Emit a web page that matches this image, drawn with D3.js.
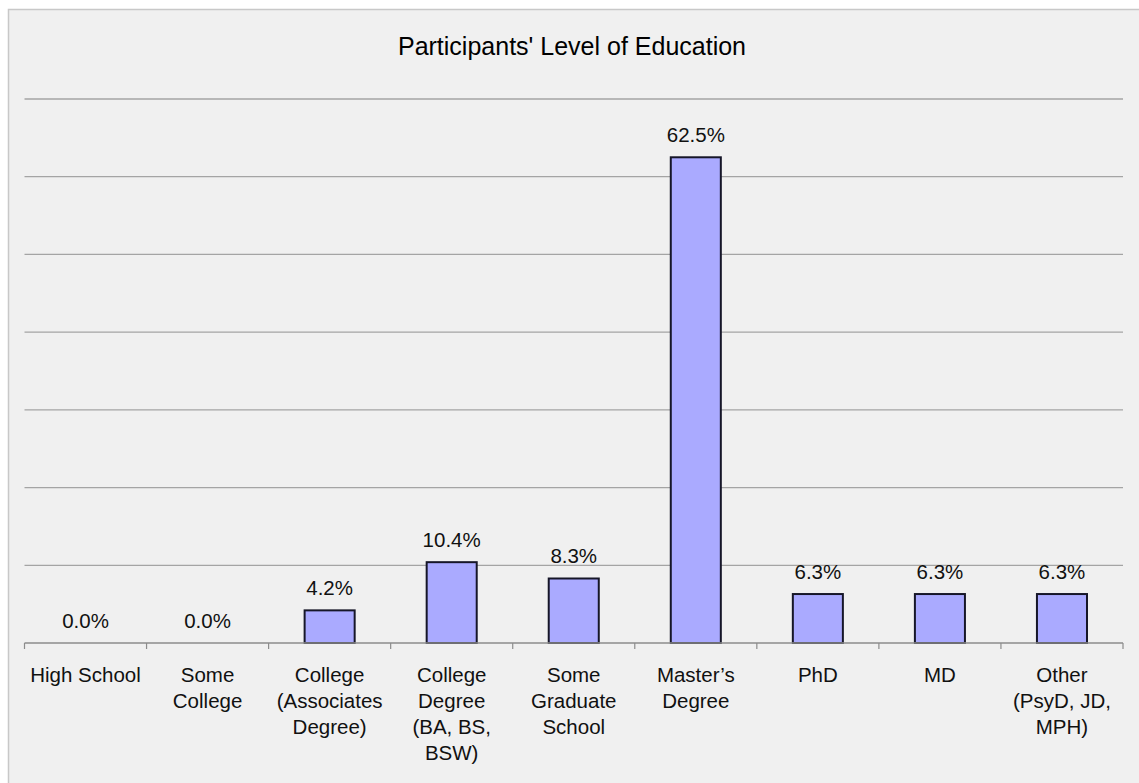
<!DOCTYPE html>
<html>
<head>
<meta charset="utf-8">
<script src="https://cdn.jsdelivr.net/npm/d3@7"></script>
<style>
  html, body { margin: 0; padding: 0; background: #ffffff; }
  svg { display: block; font-family: "Liberation Sans", Arial, sans-serif; }
</style>
</head>
<body>
<svg id="chart" width="1139" height="783"></svg>
<script>
/* ------------ Data ----------------*/
const categories = [
  ['High School'],
  ['Some', 'College'],
  ['College', '(Associates', 'Degree)'],
  ['College', 'Degree', '(BA, BS,', 'BSW)'],
  ['Some', 'Graduate', 'School'],
  ['Master\u2019s', 'Degree'],
  ['PhD'],
  ['MD'],
  ['Other', '(PsyD, JD,', 'MPH)']
];
const percents = [0.0, 0.0, 4.2, 10.4, 8.3, 62.5, 6.3, 6.3, 6.3];
const gridTicks = [10, 20, 30, 40, 50, 60, 70];
const chartTitle = "Participants' Level of Education";

/* ------------ Layout ----------------*/
const svg = d3.select('#chart');
const plotLeft = 24.5, plotRight = 1123, plotTop = 99, plotBottom = 643;

svg.append('rect')
  .attr('x', 8.5)
  .attr('y', 9.5)
  .attr('width', 1160)
  .attr('height', 800)
  .attr('fill', '#f0f0f0')
  .attr('stroke', '#c8c8c8')
  .attr('stroke-width', 1.5);

const x = d3.scaleBand()
  .domain(d3.range(categories.length))
  .range([plotLeft, plotRight])
  .paddingInner(0.59)
  .paddingOuter(0.295);

const y = d3.scaleLinear()
  .domain([0, 70])
  .range([plotBottom, plotTop]);

// gridlines
svg.append('g')
  .selectAll('line')
  .data(gridTicks)
  .join('line')
  .attr('x1', plotLeft)
  .attr('x2', plotRight)
  .attr('y1', d => y(d))
  .attr('y2', d => y(d))
  .attr('stroke', '#a4a4a4')
  .attr('stroke-width', 1.3);

// title
svg.append('text')
  .attr('x', 572)
  .attr('y', 55)
  .attr('text-anchor', 'middle')
  .attr('font-size', '25px')
  .attr('fill', '#000')
  .text(chartTitle);

// bars
svg.append('g')
  .selectAll('rect')
  .data(percents)
  .join('rect')
  .attr('x', (d, i) => x(i))
  .attr('y', d => y(d))
  .attr('width', x.bandwidth())
  .attr('height', d => y(0) - y(d))
  .attr('fill', d => d > 0 ? '#aaaaff' : 'none')
  .attr('stroke', d => d > 0 ? '#161628' : 'none')
  .attr('stroke-width', 2);

// value labels
svg.append('g')
  .selectAll('text')
  .data(percents)
  .join('text')
  .attr('x', (d, i) => x(i) + x.bandwidth() / 2)
  .attr('y', d => y(d) - 15)
  .attr('text-anchor', 'middle')
  .attr('font-size', '20.5px')
  .attr('fill', '#111')
  .text(d => d.toFixed(1) + '%');

// x axis
const step = x.step();
const tickX = d3.range(categories.length + 1).map(i => plotLeft + i * step);
const axis = svg.append('g');
axis.append('line')
  .attr('x1', plotLeft)
  .attr('x2', plotRight)
  .attr('y1', plotBottom)
  .attr('y2', plotBottom)
  .attr('stroke', '#8c8c8c')
  .attr('stroke-width', 1.5);
axis.selectAll('line.tick')
  .data(tickX)
  .join('line')
  .attr('class', 'tick')
  .attr('x1', d => d)
  .attr('x2', d => d)
  .attr('y1', plotBottom)
  .attr('y2', plotBottom + 6)
  .attr('stroke', '#8c8c8c')
  .attr('stroke-width', 1.2);

// category labels
const labels = svg.append('g')
  .selectAll('text')
  .data(categories)
  .join('text')
  .attr('x', (d, i) => x(i) + x.bandwidth() / 2)
  .attr('y', 682)
  .attr('text-anchor', 'middle')
  .attr('font-size', '20.5px')
  .attr('fill', '#111');
labels.selectAll('tspan')
  .data(d => d)
  .join('tspan')
  .attr('x', function () { return d3.select(this.parentNode).attr('x'); })
  .attr('y', (d, i) => 682 + i * 26)
  .text(d => d);
</script>
</body>
</html>
